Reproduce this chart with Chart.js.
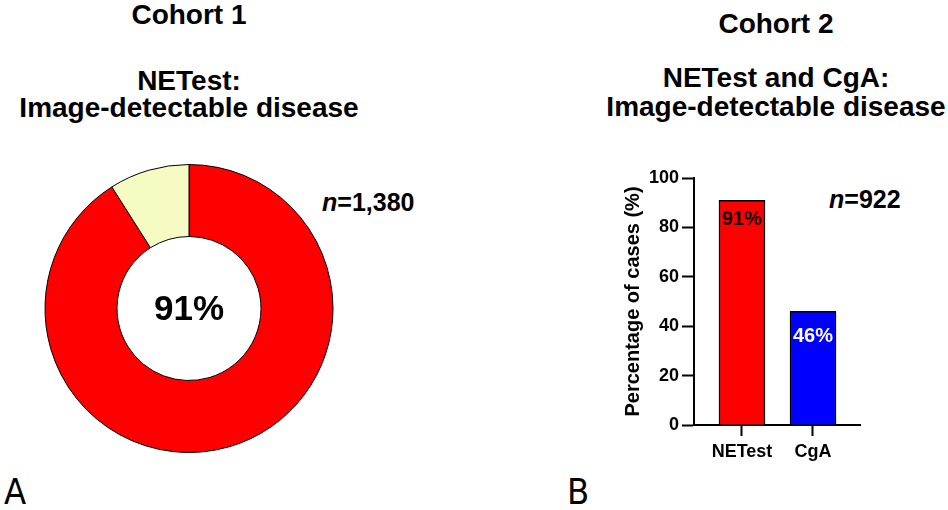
<!DOCTYPE html>
<html>
<head>
<meta charset="utf-8">
<script src="https://cdn.jsdelivr.net/npm/chart.js@4.4.1/dist/chart.umd.min.js"></script>
<style>
  body { margin: 0; background: #fff; }
  #wrap { position: relative; width: 948px; height: 510px; overflow: hidden; font-family: "Liberation Sans", Arial, sans-serif; color: #000; }
  .t { position: absolute; font-weight: bold; font-size: 28px; line-height: 28px; text-align: center; white-space: nowrap; }
  .n { position: absolute; font-weight: bold; font-size: 25px; line-height: 25px; white-space: nowrap; }
  .panel { position: absolute; font-family: "Liberation Sans Narrow", "DejaVu Sans Condensed", Arial, sans-serif; font-size: 36px; line-height: 36px; }
  canvas { position: absolute; }
</style>
</head>
<body>
<div id="wrap">
  <div class="t" style="left:0;width:378px;top:1px">Cohort 1</div>
  <div class="t" style="left:0;width:378px;top:67px">NETest:</div>
  <div class="t" style="left:0;width:378px;top:94px">Image-detectable disease</div>

  <div class="t" style="left:596px;width:360px;top:10px">Cohort 2</div>
  <div class="t" style="left:596px;width:360px;top:64px">NETest and CgA:</div>
  <div class="t" style="left:596px;width:360px;top:93px">Image-detectable disease</div>

  <div class="n" style="left:322px;top:190px"><i>n</i>=1,380</div>
  <div class="n" style="left:829px;top:187px"><i>n</i>=922</div>

  <div class="panel" style="left:4px;top:474px">A</div>
  <div class="panel" style="left:567px;top:474px">B</div>

  <canvas id="pie" width="474" height="510" style="left:0;top:0"></canvas>
  <canvas id="bars" width="474" height="370" style="left:474px;top:140px"></canvas>
</div>
<script>
// cohort 1: NETest positive vs negative (%)
var pieLabels = ['Positive', 'Negative'];
var pieValues = [91, 9];
var pieColors = ['#ff0000', '#f6fbc4'];

// cohort 2: percentage of cases detected
var barLabels = ['NETest', 'CgA'];
var barValues = [91, 46];
var barColors = ['#ff0000', '#0000ff'];
var barTextColors = ['#000000', '#ffffff'];
var yTicks = [0, 20, 40, 60, 80, 100];

var FONT = '"Liberation Sans", Arial, sans-serif';

var centerText = {
  id: 'centerText',
  afterDraw: function (chart) {
    var arc = chart.getDatasetMeta(0).data[0];
    var ctx = chart.ctx;
    ctx.save();
    ctx.font = 'bold 35px ' + FONT;
    ctx.fillStyle = '#000';
    ctx.textAlign = 'center';
    ctx.textBaseline = 'middle';
    ctx.fillText(pieValues[0] + '%', arc.x, arc.y + 2);
    ctx.restore();
  }
};

var valueLabels = {
  id: 'valueLabels',
  afterDatasetsDraw: function (chart, args, opts) {
    var ctx = chart.ctx;
    chart.getDatasetMeta(0).data.forEach(function (bar, i) {
      ctx.save();
      ctx.font = 'bold 20px ' + FONT;
      ctx.fillStyle = barTextColors[i];
      ctx.textAlign = 'center';
      ctx.textBaseline = 'middle';
      ctx.fillText(barValues[i] + '%', bar.x, bar.y + opts.offsets[i]);
      ctx.restore();
    });
  }
};

new Chart(document.getElementById('pie').getContext('2d'), {
  type: 'doughnut',
  data: {
    labels: pieLabels,
    datasets: [{
      data: pieValues,
      backgroundColor: pieColors,
      borderColor: '#000',
      borderWidth: 1
    }]
  },
  options: {
    responsive: false,
    animation: false,
    cutout: '50%',
    layout: { padding: { left: 44.5, right: 140.5, top: 164, bottom: 57 } },
    plugins: { legend: { display: false }, tooltip: { enabled: false } }
  },
  plugins: [centerText]
});

new Chart(document.getElementById('bars').getContext('2d'), {
  type: 'bar',
  data: {
    datasets: [{
      data: barValues.map(function (v, i) { return { x: i, y: v }; }),
      backgroundColor: barColors,
      borderColor: '#000',
      borderWidth: 1.5,
      barThickness: 46
    }]
  },
  options: {
    responsive: false,
    animation: false,
    layout: { padding: { left: 140, right: 88, top: 38, bottom: 45 } },
    scales: {
      x: {
        type: 'linear',
        offset: false,
        min: -0.676,
        max: 1.662,
        afterBuildTicks: function (s) { s.ticks = barLabels.map(function (_, i) { return { value: i }; }); },
        afterFit: function (s) { s.height = 40; },
        ticks: {
          callback: function (v) { return barLabels[v]; },
          font: { family: FONT, size: 18, weight: 'bold' },
          color: '#000',
          padding: 5,
          maxRotation: 0,
          autoSkip: false
        },
        grid: { offset: false, drawOnChartArea: false, tickLength: 11, tickWidth: 2, color: '#000' },
        border: { color: '#000', width: 2 }
      },
      y: {
        min: 0,
        max: 100,
        afterBuildTicks: function (s) { s.ticks = yTicks.map(function (v) { return { value: v }; }); },
        afterFit: function (s) { s.width = 80; },
        ticks: {
          font: { family: FONT, size: 18, weight: 'bold' },
          color: '#000',
          padding: 3
        },
        grid: { drawOnChartArea: false, tickLength: 12, tickWidth: 2, color: '#000' },
        border: { color: '#000', width: 2 },
        title: {
          display: true,
          text: 'Percentage of cases (%)',
          font: { family: FONT, size: 20, weight: 'bold' },
          color: '#000',
          padding: { top: 7, bottom: 0 }
        }
      }
    },
    plugins: {
      legend: { display: false },
      tooltip: { enabled: false },
      valueLabels: { offsets: [19, 25] }
    }
  },
  plugins: [valueLabels]
});
</script>
</body>
</html>
